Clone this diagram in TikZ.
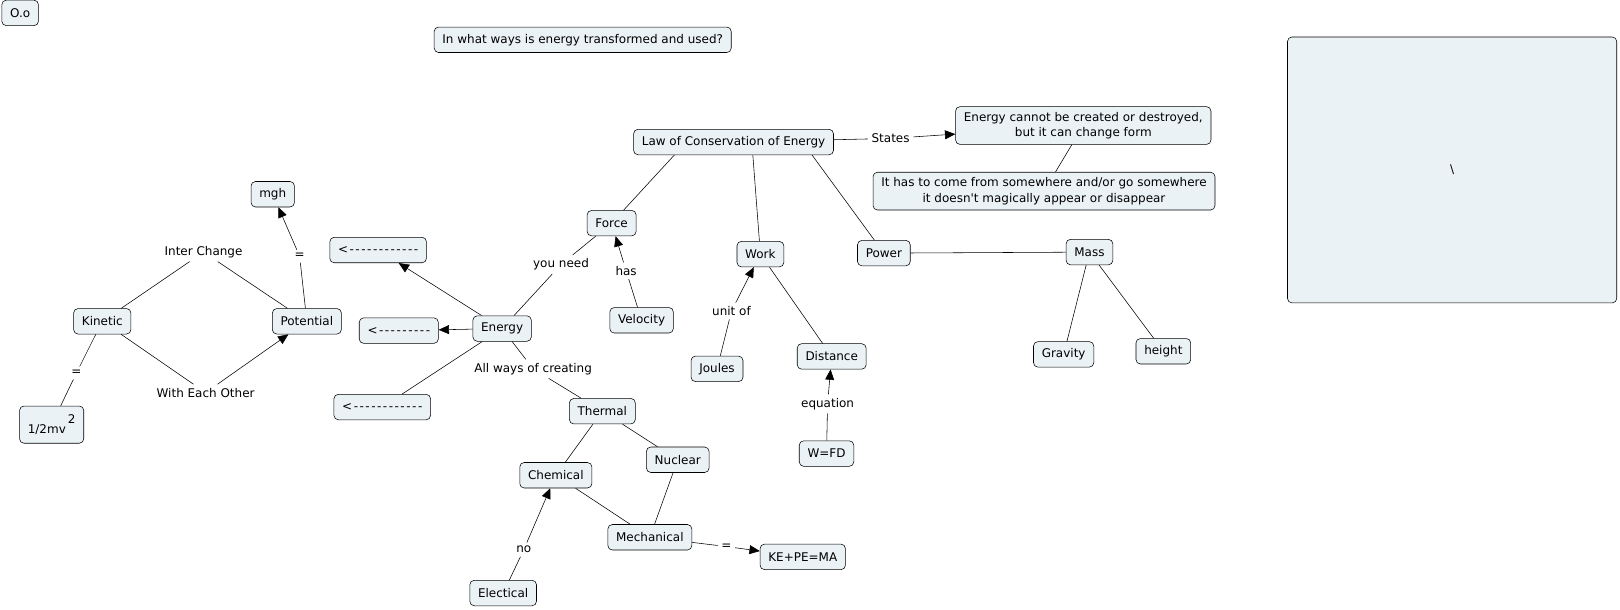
\documentclass[tikz,border=0pt]{standalone}
\usepackage{fontspec}
\setmainfont{DejaVu Sans}[Ligatures=TeXOff]
\usetikzlibrary{positioning,arrows.meta}
\definecolor{cfill}{RGB}{235,242,245}
\newcommand\dashrow[1]{<\foreach \i in {1,...,#1}{\kern1.1pt-}}

\begin{document}
\begin{tikzpicture}[x=0.75pt,y=-0.75pt,font=\fontsize{8.7}{11}\selectfont]
  \tikzset{ c/.style={draw=black,fill=cfill,rounded corners=3.2pt,inner xsep=6pt,inner ysep=4pt,minimum height=18.5pt,align=center},
            l/.style={inner sep=2.5pt},
            a/.style={-{Triangle[length=7.5pt,width=6.5pt]}},
  }
  \useasboundingbox (0,0) rectangle (1568,589.5);

  \node[c] (Oo) at (19.5, 12.5) {O.o};
  \node[c] (Q) at (564, 38.5) {In what ways is energy transformed and used?};
  \node[c,minimum width=239pt,minimum height=193pt] (Blank) at (1405.5, 164.5) {\textbackslash};

  \node[c] (Law) at (710, 137.5) {Law of Conservation of Energy};
  \node[c] (Cannot) at (1048.5, 121.5) {Energy cannot be created or destroyed,\\but it can change form};
  \node[c] (Somewhere) at (1010.5, 185) {It has to come from somewhere and/or go somewhere\\it doesn't magically appear or disappear};
  \node[c] (Force) at (592, 216) {Force};
  \node[c] (Work) at (736, 246) {Work};
  \node[c] (Power) at (855.5, 245) {Power};
  \node[c] (Mass) at (1054.5, 244) {Mass};
  \node[c] (Gravity) at (1029.5, 343) {Gravity};
  \node[c] (Height) at (1126, 340) {height};
  \node[c] (Velocity) at (621, 310) {Velocity};
  \node[c] (Joules) at (694, 357) {Joules};
  \node[c] (Distance) at (805, 345) {Distance};
  \node[c] (WFD) at (800, 439) {W=FD};

  \node[c] (Energy) at (486, 318) {Energy};
  \node[c] (ArrTop) at (366, 242) {\dashrow{12}};
  \node[c] (ArrMid) at (386, 320) {\dashrow{9}};
  \node[c] (ArrBot) at (370, 394) {\dashrow{12}};
  \node[c] (Thermal) at (583, 398) {Thermal};
  \node[c] (Nuclear) at (656, 445) {Nuclear};
  \node[c] (Chemical) at (538, 460) {Chemical};
  \node[c] (Mechanical) at (629, 520) {Mechanical};
  \node[c] (KEPE) at (777, 539) {KE+PE=MA};
  \node[c] (Electical) at (487, 574) {Electical};

  \node[c] (Mgh) at (264, 188) {mgh};
  \node[c] (Kinetic) at (99, 311) {Kinetic};
  \node[c] (Potential) at (297, 311) {Potential};
  \node[c,minimum height=27pt,inner ysep=2pt] (Half) at (50, 411) {1/2mv\,\raisebox{1.4ex}{2}};

  % linking phrases
  \node[l] (States) at (862, 134) {States};
  \node[l] (UnitOf) at (708, 301) {unit of};
  \node[l] (Equation) at (801, 391) {equation};
  \node[l] (Has) at (606, 262) {has};
  \node[l] (YouNeed) at (543, 256) {you need};
  \node[l] (AllWays) at (516, 357) {All ways of creating};
  \node[l] (No) at (507, 532) {no};
  \node[l] (EqMech) at (703, 529) {=};
  \node[l] (InterChange) at (197, 244) {Inter Change};
  \node[l] (EachOther) at (199, 380) {With Each Other};
  \node[l] (EqPot) at (290, 248) {=};
  \node[l] (EqKin) at (74, 361) {=};

  \draw (Law) -- (States);
  \draw[a] (States) -- (Cannot);
  \draw (Cannot) -- (Somewhere);
  \draw ([xshift=-43pt]Law.south) -- (Force);
  \draw ([xshift=14pt]Law.south) -- (Work);
  \draw ([xshift=57pt]Law.south) -- (Power);
  \draw (Power) -- (Mass);
  \draw (Mass) -- (Gravity);
  \draw (Mass) -- (Height);
  \draw (Work) -- (Distance);
  \draw (Joules) -- (UnitOf);
  \draw[a] (UnitOf) -- (Work);
  \draw (WFD) -- (Equation);
  \draw[a] (Equation) -- (Distance);
  \draw (Velocity) -- (Has);
  \draw[a] (Has) -- (Force);

  \draw (Energy) -- (YouNeed);
  \draw (YouNeed) -- (Force);
  \draw[a] (Energy) -- (ArrTop);
  \draw[a] (Energy) -- (ArrMid);
  \draw (Energy) -- (ArrBot);
  \draw (Energy) -- (AllWays);
  \draw (AllWays) -- (Thermal);
  \draw (Thermal) -- (Chemical);
  \draw (Thermal) -- (Nuclear);
  \draw (Chemical) -- (Mechanical);
  \draw (Nuclear) -- (Mechanical);
  \draw (Electical) -- (No);
  \draw[a] (No) -- (Chemical);
  \draw (Mechanical) -- (EqMech);
  \draw[a] (EqMech) -- (KEPE);

  \draw (Kinetic) -- (InterChange);
  \draw (InterChange) -- (Potential);
  \draw (Kinetic) -- (EachOther);
  \draw[a] (EachOther) -- (Potential);
  \draw (Potential) -- (EqPot);
  \draw[a] (EqPot) -- (Mgh);
  \draw (Kinetic) -- (EqKin);
  \draw (EqKin) -- (Half);
\end{tikzpicture}
\end{document}
